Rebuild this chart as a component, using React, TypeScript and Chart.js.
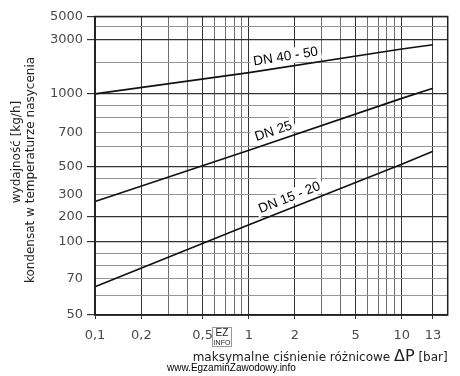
import React, { useEffect, useRef } from 'react';
import { Chart, Scale, registerables } from 'chart.js';

// ---------- data ----------
const pressureBar = [0.1, 1, 10, 13];
const dn4050 = [1000, 1600, 2550, 2750];
const dn25 = [265, 580, 960, 1130];
const dn1520 = [65, 160, 510, 575];
const seriesNames = ['DN 40 - 50', 'DN 25', 'DN 15 - 20'];
const labelAtPressure = [1.78, 1.52, 1.95];

// ---------- axes ----------
const xTickValues = [0.1, 0.2, 0.3, 0.4, 0.5, 0.6, 0.7, 0.8, 0.9, 1, 2, 3, 4, 5, 6, 7, 8, 9, 10, 13];
const xLabelled = [0.1, 0.2, 0.5, 1, 2, 5, 10, 13];
const yTickValues = [50, 60, 70, 80, 90, 100, 200, 300, 400, 500, 600, 700, 800, 900, 1000, 2000, 3000, 4000, 5000];
const yLabelled = [50, 70, 100, 200, 300, 500, 700, 1000, 3000, 5000];
const yMajor = [50, 100, 200, 500, 1000, 3000, 5000];

// calibration of the (hand-drawn, non-uniform) logarithmic axes: value -> fraction of axis length
const xAxisStops = [[0.1, 0], [1, 0.4366], [10, 0.8696], [13, 0.9583], [15, 1]];
const yAxisStops = [
  [50, 0], [60, 0.0637], [70, 0.123], [80, 0.1643], [90, 0.2045], [100, 0.2457],
  [200, 0.3295], [300, 0.4023], [400, 0.4583], [500, 0.4978], [600, 0.5642],
  [700, 0.6111], [800, 0.6614], [900, 0.7017], [1000, 0.7409], [2000, 0.8458],
  [3000, 0.9219], [4000, 0.9665], [5000, 1],
];

class StopsScale extends Scale {
  static id = 'stops';
  static defaults = {};
  stopsArr(): number[][] {
    return (this as any).axis === 'x' ? xAxisStops : yAxisStops;
  }
  determineDataLimits() {
    const s = this.stopsArr();
    (this as any).min = s[0][0];
    (this as any).max = s[s.length - 1][0];
  }
  buildTicks() {
    const vals = (this as any).axis === 'x' ? xTickValues : yTickValues;
    return vals.map((v) => ({ value: v }));
  }
  getLabelForValue(v: number) {
    return String(v);
  }
  toDecimal(v: number) {
    const s = this.stopsArr();
    if (v == null || isNaN(v) || v <= 0) return NaN;
    let i = 0;
    while (i < s.length - 2 && v > s[i + 1][0]) i++;
    const [v0, f0] = s[i];
    const [v1, f1] = s[i + 1];
    const t = (Math.log(v) - Math.log(v0)) / (Math.log(v1) - Math.log(v0));
    return f0 + t * (f1 - f0);
  }
  getPixelForValue(v: number) {
    return (this as any).getPixelForDecimal(this.toDecimal(v));
  }
  getValueForPixel(p: number) {
    const d = (this as any).getDecimalForPixel(p);
    const s = this.stopsArr();
    let i = 0;
    while (i < s.length - 2 && d > s[i + 1][1]) i++;
    const [v0, f0] = s[i];
    const [v1, f1] = s[i + 1];
    const t = (d - f0) / (f1 - f0);
    return Math.exp(Math.log(v0) + t * (Math.log(v1) - Math.log(v0)));
  }
}

Chart.register(...registerables, StopsScale);

const TICK_FONT = '"DejaVu Sans", Verdana, sans-serif';
const LABEL_FONT = '"Liberation Sans", Arial, sans-serif';

const decorPlugin = {
  id: 'decor',
  afterDatasetsDraw(chart: any) {
    const { ctx, chartArea: a, scales } = chart;
    ctx.save();
    ctx.strokeStyle = '#222';
    ctx.lineWidth = 1.5;
    ctx.strokeRect(a.left, a.top, a.right - a.left, a.bottom - a.top);
    ctx.restore();

    chart.data.datasets.forEach((ds: any, i: number) => {
      const pts = chart.getDatasetMeta(i).data;
      const px = scales.x.getPixelForValue(labelAtPressure[i]);
      let k = 0;
      while (k < pts.length - 2 && pts[k + 1].x < px) k++;
      const p0 = pts[k];
      const p1 = pts[k + 1];
      const t = (px - p0.x) / (p1.x - p0.x);
      const py = p0.y + t * (p1.y - p0.y);
      const ang = Math.atan2(p1.y - p0.y, p1.x - p0.x);
      ctx.save();
      ctx.translate(px, py);
      ctx.rotate(ang);
      ctx.translate(0, -10.5);
      ctx.font = '13.5px ' + LABEL_FONT;
      const w = ctx.measureText(ds.label).width;
      ctx.fillStyle = '#fff';
      ctx.fillRect(-w / 2 - 3, -7.5, w + 6, 15);
      ctx.fillStyle = '#000';
      ctx.textAlign = 'center';
      ctx.textBaseline = 'middle';
      ctx.fillText(ds.label, 0, 0.5);
      ctx.restore();
    });
  },
  afterDraw(chart: any) {
    const { ctx, chartArea: a } = chart;
    ctx.save();
    ctx.fillStyle = '#222';
    ctx.textAlign = 'center';
    ctx.textBaseline = 'middle';
    ctx.font = '12px ' + TICK_FONT;
    ctx.save();
    ctx.translate(17, 152);
    ctx.rotate(-Math.PI / 2);
    ctx.fillText('wydajność [kg/h]', 0, 0);
    ctx.restore();
    ctx.save();
    ctx.translate(30.5, 170);
    ctx.rotate(-Math.PI / 2);
    ctx.fillText('kondensat w temperaturze nasycenia', 0, 0);
    ctx.restore();

    // x axis title (right aligned to plot)
    ctx.textAlign = 'left';
    ctx.textBaseline = 'alphabetic';
    const p1 = 'maksymalne ciśnienie różnicowe ';
    const p2 = 'ΔP';
    const p3 = ' [bar]';
    ctx.font = '12px ' + TICK_FONT;
    const w1 = ctx.measureText(p1).width;
    const w3 = ctx.measureText(p3).width;
    ctx.font = '16px ' + TICK_FONT;
    const w2 = ctx.measureText(p2).width;
    let x = a.right - (w1 + w2 + w3);
    const base = 361;
    ctx.font = '12px ' + TICK_FONT;
    ctx.fillText(p1, x, base);
    x += w1;
    ctx.font = '16px ' + TICK_FONT;
    ctx.fillText(p2, x, base);
    x += w2;
    ctx.font = '12px ' + TICK_FONT;
    ctx.fillText(p3, x, base);

    // watermark
    ctx.fillStyle = '#000';
    ctx.font = '10px ' + LABEL_FONT;
    ctx.fillText('www.EgzaminZawodowy.info', 167, 371);

    // small EZ INFO badge
    ctx.strokeStyle = '#333';
    ctx.lineWidth = 1;
    ctx.setLineDash([1, 1]);
    ctx.strokeRect(212.5, 327.5, 19, 19);
    ctx.setLineDash([]);
    ctx.fillStyle = '#222';
    ctx.textAlign = 'center';
    ctx.font = '10px ' + LABEL_FONT;
    ctx.fillText('EZ', 222, 336);
    ctx.font = '7px ' + LABEL_FONT;
    ctx.fillText('INFO', 222, 345);
    ctx.restore();
  },
};

export default function App() {
  const ref = useRef<HTMLCanvasElement>(null);
  useEffect(() => {
    document.body.style.margin = '0';
    const toPoints = (ys: number[]) => pressureBar.map((x, i) => ({ x, y: ys[i] }));
    const mk = (label: string, ys: number[]) => ({
      label,
      data: toPoints(ys),
      borderColor: '#111',
      borderWidth: 1.6,
      pointRadius: 0,
      tension: 0,
      fill: false,
    });
    const chart = new Chart(ref.current!, {
      type: 'line',
      data: {
        datasets: [mk(seriesNames[0], dn4050), mk(seriesNames[1], dn25), mk(seriesNames[2], dn1520)],
      },
      options: {
        responsive: false,
        animation: false,
        events: [],
        layout: { padding: { top: 16.5, right: 12.3, left: 0, bottom: 0 } },
        plugins: { legend: { display: false }, tooltip: { enabled: false } },
        scales: {
          x: {
            type: 'stops' as any,
            position: 'bottom',
            afterFit: (s: any) => { s.height = 61; },
            border: { display: true, color: '#222', width: 1.5 },
            grid: {
              color: (c: any) => (c.tick && xLabelled.includes(c.tick.value) ? '#333' : '#6e6e6e'),
              lineWidth: 1,
              tickLength: 4,
              tickColor: (c: any) => (c.tick && xLabelled.includes(c.tick.value) ? '#333' : 'rgba(0,0,0,0)'),
            },
            ticks: {
              autoSkip: false,
              maxRotation: 0,
              minRotation: 0,
              padding: 9,
              color: '#4a4a4a',
              font: { family: TICK_FONT, size: 13 },
              callback: (v: any) => (xLabelled.includes(v) ? String(v).replace('.', ',') : ''),
            },
          },
          y: {
            type: 'stops' as any,
            position: 'left',
            afterFit: (s: any) => { s.width = 95; },
            border: { display: true, color: '#222', width: 1.5 },
            grid: {
              color: (c: any) => (c.tick && yMajor.includes(c.tick.value) ? '#333' : '#959595'),
              lineWidth: (c: any) => (c.tick && yMajor.includes(c.tick.value) ? 1.2 : 1),
              tickLength: 8,
              tickColor: (c: any) => (c.tick && yMajor.includes(c.tick.value) ? '#333' : 'rgba(0,0,0,0)'),
            },
            ticks: {
              autoSkip: false,
              padding: 4,
              color: '#4a4a4a',
              font: { family: TICK_FONT, size: 13 },
              callback: (v: any) => (yLabelled.includes(v) ? String(v) : ''),
            },
          },
        },
      },
      plugins: [decorPlugin],
    });
    return () => chart.destroy();
  }, []);
  return (
    <div style={{ width: 460, height: 376 }}>
      <canvas ref={ref} width={460} height={376} style={{ width: 460, height: 376, display: 'block' }} />
    </div>
  );
}
